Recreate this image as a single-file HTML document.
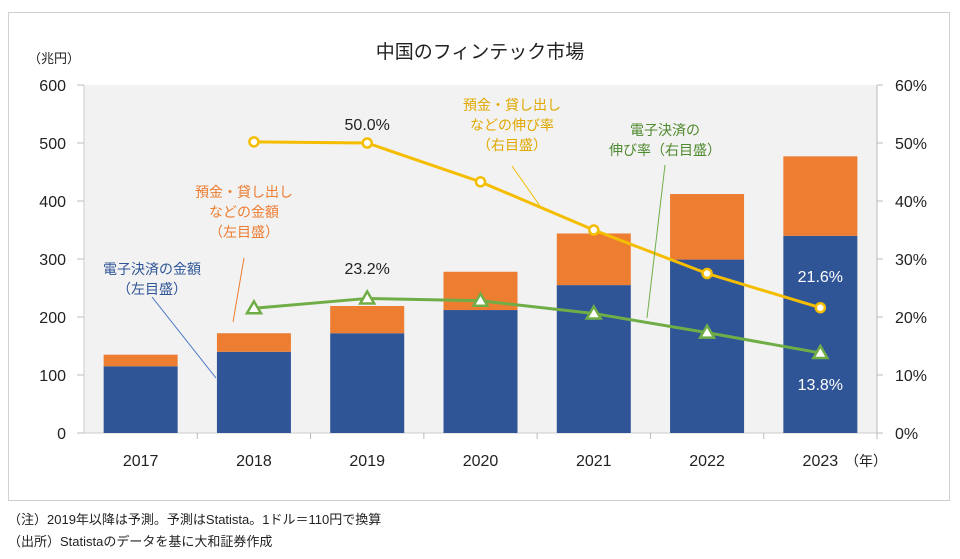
<!DOCTYPE html>
<html><head><meta charset="utf-8"><style>
body{margin:0;background:#fff;width:960px;height:554px;overflow:hidden;font-family:"Liberation Sans","Noto Sans CJK JP",sans-serif}
svg text{font-family:"Liberation Sans","Noto Sans CJK JP",sans-serif}
</style></head><body>
<svg id="c" width="960" height="554">
<rect x="8.5" y="12.5" width="941" height="488" fill="#fff" stroke="#d0d0d0"/>
<text x="480" y="58" text-anchor="middle" font-size="19" fill="#222">中国のフィンテック市場</text>
<text x="28" y="63" font-size="13" fill="#222">（兆円）</text>
<g id="g"></g>
<text x="8" y="524" font-size="13" fill="#222">（注）2019年以降は予測。予測はStatista。1ドル＝110円で換算</text>
<text x="8" y="546" font-size="13" fill="#222">（出所）Statistaのデータを基に大和証券作成</text>
</svg>
<script>
const years=["2017","2018","2019","2020","2021","2022","2023"];
const epay=[115,140,172,212,255,299,340];
const loans=[20,32,47,66,89,113,137];
const loanRate=[null,50.2,50.0,43.3,35.0,27.5,21.6];
const epayRate=[null,21.5,23.2,22.8,20.6,17.3,13.8];
const leftTicks=[0,100,200,300,400,500,600];
const rightTicks=[0,10,20,30,40,50,60];
const NS="http://www.w3.org/2000/svg",g=document.getElementById('g');
const X0=84,X1=877,Y0=433,Y1=85,step=(X1-X0)/years.length,bw=74;
const yL=v=>Y0-(v/600)*(Y0-Y1), yR=v=>Y0-(v/60)*(Y0-Y1), xC=i=>X0+step*(i+0.5);
function mk(t,a,txt){const e=document.createElementNS(NS,t);for(const k in a)e.setAttribute(k,a[k]);if(txt!=null)e.textContent=txt;g.appendChild(e);return e;}
let e=mk('rect',{x:X0,y:Y1,width:X1-X0,height:Y0-Y1,fill:'#f2f2f2'});


leftTicks.forEach(v=>{const t=mk('text',{x:66,y:yL(v)+6,'text-anchor':'end','font-size':16,fill:'#222'},v);


mk('line',{x1:77,x2:X0,y1:yL(v),y2:yL(v),stroke:'#bbb'});});
rightTicks.forEach(v=>{const t=mk('text',{x:895,y:yR(v)+6,'font-size':16,fill:'#222'},v+'%');


mk('line',{x1:X1,x2:X1+6,y1:yR(v),y2:yR(v),stroke:'#bbb'});});
mk('line',{x1:X0,x2:X0,y1:Y1,y2:Y0,stroke:'#ccc'});
mk('line',{x1:X1,x2:X1,y1:Y1,y2:Y0+6,stroke:'#bbb'});
mk('line',{x1:X0,x2:X1,y1:Y0,y2:Y0,stroke:'#ccc'});
years.forEach((y,i)=>{mk('line',{x1:X0+step*(i+1),x2:X0+step*(i+1),y1:Y0,y2:Y0+6,stroke:'#bbb'});
const t=mk('text',{x:xC(i),y:466,'text-anchor':'middle','font-size':16,fill:'#222'},y);


const b=mk('rect',{x:xC(i)-bw/2,y:yL(epay[i]),width:bw,height:Y0-yL(epay[i]),fill:'#2f5597'});


const o=mk('rect',{x:xC(i)-bw/2,y:yL(epay[i]+loans[i]),width:bw,height:yL(epay[i])-yL(epay[i]+loans[i]),fill:'#ed7d31'});

});
let u=mk('text',{x:845,y:466,'font-size':14,fill:'#222'},'（年）');


function line(arr,col,name,tri){let p=[];arr.forEach((v,i)=>{if(v!=null)p.push(xC(i)+','+yR(v));});
const l=mk('polyline',{points:p.join(' '),fill:'none',stroke:col,'stroke-width':3});


arr.forEach((v,i)=>{if(v==null)return;let m;const x=xC(i),y=yR(v);
if(tri)m=mk('polygon',{points:`${x},${y-7} ${x-7},${y+5} ${x+7},${y+5}`,fill:'#fff',stroke:col,'stroke-width':2.5});
else m=mk('circle',{cx:x,cy:y,r:4.5,fill:'#fff',stroke:col,'stroke-width':2.5});

});}
line(loanRate,'#f5bd00','loan-rate',false);
line(epayRate,'#70ad47','epay-rate',true);
function lab(x,y,s,c,n,sz){s.split('\n').forEach((t,k)=>{const e=mk('text',{x:x,y:y+k*20,'text-anchor':'middle','font-size':sz||14,fill:c},t);

});}
lab(xC(2),130,loanRate[2].toFixed(1)+'%','#222','loan-rate-label',16);
lab(xC(2),274,epayRate[2].toFixed(1)+'%','#222','epay-rate-label',16);
lab(xC(6),282,loanRate[6].toFixed(1)+'%','#fff','loan-rate-2023-label',16);
lab(xC(6),390,epayRate[6].toFixed(1)+'%','#fff','epay-rate-2023-label',16);
lab(244,197,'預金・貸し出し\nなどの金額\n（左目盛）','#ed7d31','loans-annotation');
lab(152,274,'電子決済の金額\n（左目盛）','#2f5597','epay-annotation');
lab(512,110,'預金・貸し出し\nなどの伸び率\n（右目盛）','#e0a800','loan-rate-annotation');
lab(665,135,'電子決済の\n伸び率（右目盛）','#4e8a2e','epay-rate-annotation');
mk('line',{x1:244,y1:258,x2:233,y2:322,stroke:'#ed7d31'});
mk('line',{x1:152,y1:297,x2:216,y2:378,stroke:'#4472c4'});
mk('line',{x1:512,y1:166,x2:540,y2:206,stroke:'#f5bd00'});
mk('line',{x1:665,y1:165,x2:647,y2:318,stroke:'#70ad47'});
</script>
</body></html>
